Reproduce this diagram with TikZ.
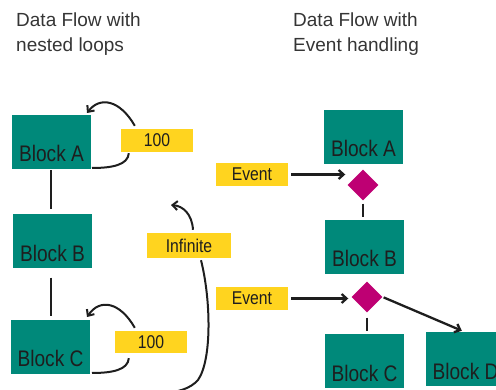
\documentclass[tikz,border=0pt]{standalone}
\usepackage{fontspec}
\setmainfont{Liberation Sans}
\newfontfamily\condfont{Liberation Sans}[FakeStretch=0.85]
\usetikzlibrary{shapes.geometric,arrows.meta,calc}
\definecolor{tealbox}{HTML}{00897A}
\definecolor{yel}{HTML}{FFD41F}
\definecolor{mag}{HTML}{BE0073}
\definecolor{ink}{HTML}{1E1E1E}
\begin{document}
\begin{tikzpicture}[x=1pt,y=-1pt,
 blockbox/.style={rectangle, fill=tealbox, minimum width=79pt, minimum height=54pt, inner sep=0pt, text=ink, font=\condfont\fontsize{22.5}{22.5}\selectfont, text height=44pt, text depth=4pt},
 tagbox/.style={rectangle, fill=yel, minimum width=72pt, minimum height=23pt, inner sep=0pt, text=ink, font=\condfont\fontsize{18.5}{18.5}\selectfont},
 gate/.style={diamond, fill=mag, minimum width=31pt, minimum height=31pt, inner sep=0pt},
 titletext/.style={anchor=base west, inner sep=0pt, text=ink!90, font=\fontsize{19}{19}\selectfont},
 link/.style={draw=ink, line width=2.3pt},
 flow/.style={link, -{Straight Barb[length=5pt,width=9pt]}},
 loopline/.style={draw=ink, line width=2pt},
 looparrow/.style={loopline, -{Straight Barb[length=5pt,width=9pt]}}]
\useasboundingbox (0,0) rectangle (496,390);
\clip (0,0) rectangle (496,390);
% titles
\node[titletext] (t1) at (16,27) {Data Flow with};
\node[titletext] (t2) at (16,52) {nested loops};
\node[titletext] (t3) at (293,27) {Data Flow with};
\node[titletext] (t4) at (293,52) {Event handling};
% left blocks
\node[blockbox] (LA) at (51.5,142) {Block A};
\node[blockbox] (LB) at (52.5,241.5) {Block B};
\node[blockbox] (LC) at (50.5,347) {Block C};
% right blocks
\node[blockbox, text height=43pt] (RA) at (363.5,137.5) {Block A};
\node[blockbox] (RB) at (364.5,247) {Block B};
\node[blockbox] (RC) at (364.5,361.5) {Block C};
\node[blockbox] (RD) at (465.5,359.5) {Block D};
% tags
\node[tagbox] (Na) at (157,140.5) {100};
\node[tagbox, minimum height=22pt] (Nb) at (151,342) {100};
\node[tagbox, minimum width=84pt, minimum height=25pt] (Inf) at (189,245.5) {Infinite};
\node[tagbox] (E1) at (252,174.5) {Event};
\node[tagbox] (E2) at (252,298.5) {Event};
% gates
\node[gate] (G1) at (363,185) {};
\node[gate] (G2) at (367,297) {};
% left connectors
\draw[link, shorten <=1pt, shorten >=5pt] (LA.south -| 51,0) -- (LB.north -| 51,0);
\draw[link, shorten <=9pt, shorten >=4pt] (LB.south -| 51,0) -- (LC.north -| 51,0);
% loops
\draw[looparrow] ($(Na.north west)+(14,-3)$) .. controls (120,100) and (100,96) .. (87,113);
\draw[loopline] ($(Na.south west)+(8,1)$) .. controls (128,165) and (112,168) .. (92,168);
\draw[looparrow] ($(Nb.north west)+(20,-3)$) .. controls (120,302) and (100,298) .. (87,317);
\draw[loopline] ($(Nb.south west)+(14,5)$) .. controls (128,370) and (112,373) .. (92,373);
\draw[looparrow] ($(Inf.north)+(4,-3)$) .. controls (192,214) and (183,206) .. (171,205);
\coordinate (infend) at (160,394);
\draw[loopline] ($(Inf.south)+(12,2)$) .. controls (211,300) and (212,360) .. (198,380) .. controls (190,389) and (178,392) .. (infend);
% right connectors
\draw[flow, shorten <=3pt, shorten >=2pt] (E1.east) -- (E1.east -| G1.west);
\draw[flow, shorten <=3pt, shorten >=3pt] (E2.east) -- (E2.east -| G2.west);
\draw[link, shorten <=3pt, shorten >=3pt] (G1.south) -- (RB.north -| G1.south);
\draw[link, shorten <=5pt, shorten >=3pt] (G2.south) -- (RC.north -| G2.south);
\draw[flow, shorten <=1pt, shorten >=4pt] (G2.east) -- (RD.north);
\end{tikzpicture}
\end{document}
